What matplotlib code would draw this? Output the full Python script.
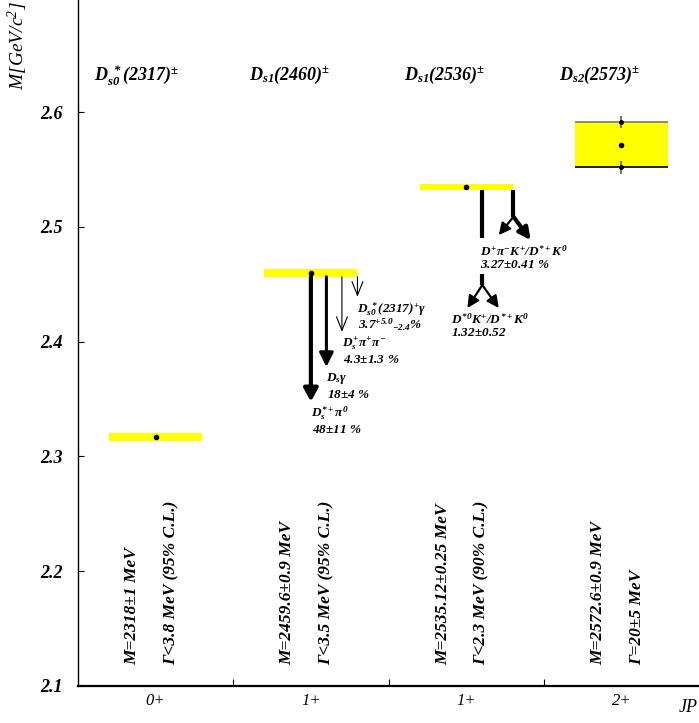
import matplotlib
matplotlib.use("Agg")
import matplotlib.pyplot as plt

plt.rcParams["font.family"] = ["Liberation Serif", "DejaVu Serif"]
plt.rcParams["mathtext.fontset"] = "custom"
plt.rcParams["mathtext.rm"] = "Liberation Serif:bold:italic"
plt.rcParams["mathtext.it"] = "Liberation Serif:bold:italic"
plt.rcParams["mathtext.bf"] = "Liberation Serif:bold:italic"
plt.rcParams["mathtext.sf"] = "Liberation Serif:italic"

# ── Data ──────────────────────────────────────────────────────────────────────
titles = [r"$D_{s0}^{\ *}(2317)^{\pm}$", r"$D_{s1}(2460)^{\pm}$",
          r"$D_{s1}(2536)^{\pm}$", r"$D_{s2}(2573)^{\pm}$"]
jp_labels = ["0+", "1+", "1+", "2+"]
masses = [2.3169, 2.4600, 2.5345, 2.5716]        # GeV/c^2
band_half = [0.0039, 0.0035, 0.0028, 0.0198]     # drawn half-height
mass_text = ["M=2318±1 MeV", "M=2459.6±0.9 MeV",
             "M=2535.12±0.25 MeV", "M=2572.6±0.9 MeV"]
width_text = ["Γ<3.8 MeV (95% C.L.)", "Γ<3.5 MeV (95% C.L.)",
              "Γ<2.3 MeV (90% C.L.)", "Γ=20±5 MeV"]

# Ds1(2460) decays
d2460_x = [1.50, 1.60, 1.70, 1.80]
d2460_end = [2.3477, 2.3780, 2.4085, 2.4391]
d2460_name = [r"$D_{s}^{*+}\pi^{0}$", r"$D_{s}\gamma$",
              r"$D_{s}^{+}\pi^{+}\pi^{-}$", r"$D_{s0}^{\ *}(2317)^{+}\gamma$"]
d2460_br = [r"$48{\pm}11\ \%$", r"$18{\pm}4\ \%$",
            r"$4.3{\pm}1.3\ \%$", r"$3.7^{+5.0}{}_{-2.4}\%$"]

# Ds1(2536) decays
d2536_name = [r"$D^{+}\pi^{-}K^{+}/D^{*+}K^{0}$", r"$D^{*0}K^{+}/D^{*+}K^{0}$"]
d2536_br = [r"$3.27{\pm}0.41\ \%$", r"$1.32{\pm}0.52$"]

# ── Figure ────────────────────────────────────────────────────────────────────
fig = plt.figure(figsize=(6.99, 7.23), dpi=100)
ax = fig.add_axes([78 / 699, 37 / 723, 621 / 699, 686 / 723])
ax.set_xlim(0, 4)
ax.set_ylim(2.1, 2.6976)
for s in ("top", "right"):
    ax.spines[s].set_visible(False)
ax.spines["left"].set_linewidth(1.0)
ax.spines["bottom"].set_linewidth(1.6)

ax.set_yticks([2.1, 2.2, 2.3, 2.4, 2.5, 2.6])
ax.set_yticklabels(["2.1", "2.2", "2.3", "2.4", "2.5", "2.6"],
                   fontsize=13, fontweight="bold", style="italic")
ax.tick_params(axis="y", direction="in", length=4, pad=11)
ax.set_xticks([1, 2, 3])
ax.set_xticklabels([])
ax.tick_params(axis="x", direction="in", length=5)
ax.set_xticks([0.5, 1.5, 2.5, 3.5], minor=True)
ax.set_xticklabels(jp_labels, minor=True, fontsize=12, style="italic")
ax.tick_params(axis="x", which="minor", length=0, pad=5)

fig.text(688 / 699, 1 - 708 / 723, "JP", fontsize=13, style="italic",
         ha="center", va="center")
fig.text(0.026, 0.999, r"$\mathsf{M[GeV/c^{2}]}$", fontsize=14,
         rotation=90, ha="center", va="top")

yellow = "#ffff00"
for i, (m, hw) in enumerate(zip(masses, band_half)):
    ax.fill_between([i + 0.2, i + 0.8], m - hw, m + hw, color=yellow, lw=0,
                    zorder=1)
    ax.plot(i + 0.5, m, "o", color="k", ms=3, zorder=4)
    ax.text(i + 0.1, 2.632, titles[i], fontsize=13, ha="left", va="center")
    ax.text(i + 0.35, 2.1183, mass_text[i], rotation=90, fontsize=12.5,
            fontweight="bold", style="italic", ha="center", va="bottom")
    ax.text(i + 0.6, 2.1183, width_text[i], rotation=90, fontsize=12.5,
            fontweight="bold", style="italic", ha="center", va="bottom")

# Ds2(2573) box edges and error ticks
m, hw = masses[3], band_half[3]
ax.hlines(m + hw, 3.2, 3.8, color="#777777", lw=1.2, zorder=2)
ax.hlines(m - hw, 3.2, 3.8, color="k", lw=1.2, zorder=2)
for yy in (m + hw, m - hw):
    ax.vlines(3.5, yy - 0.0055, yy + 0.0055, color="#777777", lw=1.5, zorder=3)
    ax.plot(3.5, yy, "o", color="k", ms=2.5, zorder=4)

# Ds1(2460) decay arrows
top2460 = masses[1] - band_half[1]
arrow_lw = [3.0, 2.2, 0.8, 0.8]
arrow_style = ["-|>,head_length=0.55,head_width=0.3",
               "-|>,head_length=0.6,head_width=0.3",
               "->,head_length=0.7,head_width=0.28",
               "->,head_length=0.7,head_width=0.28"]
for x, y_end, lw, st in zip(d2460_x, d2460_end, arrow_lw, arrow_style):
    ax.annotate("", xy=(x, y_end), xytext=(x, top2460),
                arrowprops=dict(arrowstyle=st, lw=lw, color="k",
                                shrinkA=0, shrinkB=0, mutation_scale=14))
for x, y_end, name, br in zip(d2460_x, d2460_end, d2460_name, d2460_br):
    ax.text(x, y_end - 0.0105, name, fontsize=9.5, ha="left", va="center")
    ax.text(x + 0.005, y_end - 0.0245, br, fontsize=9.5, ha="left", va="center")

# Ds1(2536) decays
top2536 = masses[2] - band_half[2]
ax.plot([2.604, 2.604], [top2536, 2.4901], color="k", lw=3, solid_capstyle="butt")
ax.plot([2.805, 2.805], [top2536, 2.5088], color="k", lw=3, solid_capstyle="butt")
ax.annotate("", xy=(2.71, 2.4928), xytext=(2.805, 2.5088),
            arrowprops=dict(arrowstyle="-|>,head_length=0.5,head_width=0.25",
                            lw=1.6, color="k", shrinkA=0, shrinkB=0,
                            mutation_scale=14))
ax.annotate("", xy=(2.916, 2.4884), xytext=(2.805, 2.5088),
            arrowprops=dict(arrowstyle="-|>,head_length=0.5,head_width=0.25",
                            lw=3, color="k", shrinkA=0, shrinkB=0,
                            mutation_scale=14))
ax.text(2.592, 2.4785, d2536_name[0], fontsize=9.5, ha="left", va="center")
ax.text(2.592, 2.4670, d2536_br[0], fontsize=9.5, ha="left", va="center")

ax.plot([2.604, 2.604], [2.4589, 2.4493], color="k", lw=3, solid_capstyle="butt")
for xe in (2.508, 2.71):
    ax.annotate("", xy=(xe, 2.4293), xytext=(2.604, 2.4493),
                arrowprops=dict(arrowstyle="-|>,head_length=0.5,head_width=0.25",
                                lw=1.6, color="k", shrinkA=0, shrinkB=0,
                                mutation_scale=14))
ax.text(2.40, 2.4188, d2536_name[1], fontsize=9.5, ha="left", va="center")
ax.text(2.40, 2.4075, d2536_br[1], fontsize=9.5, ha="left", va="center")

fig.savefig("out.png", dpi=100)
